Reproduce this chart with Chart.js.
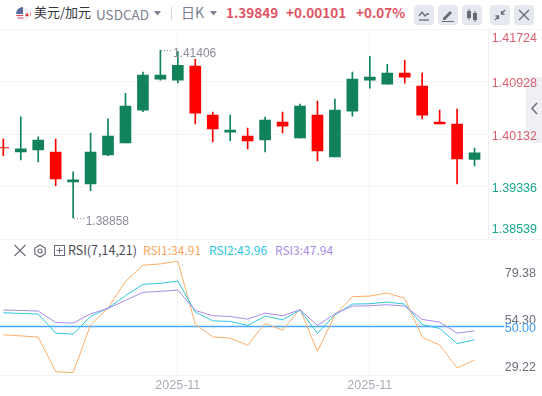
<!DOCTYPE html>
<html lang="zh">
<head>
<meta charset="UTF-8">
<title>USDCAD</title>
<script src="https://cdn.jsdelivr.net/npm/chart.js"></script>
<style>
    html, body { margin: 0; padding: 0; background: #fff; }
    body { width: 542px; height: 396px; position: relative; overflow: hidden; font-family: "Noto Sans CJK SC", "Noto Sans", sans-serif; }
    canvas { position: absolute; left: 0; top: 0; }
    .t { position: absolute; white-space: nowrap; line-height: 18px; }
    .rule { position: absolute; left: 0; height: 1px; background: #f3f3f6; }
    .btn { position: absolute; top: 5px; width: 20px; height: 20px; background: #e6e8ef; border-radius: 4px; }
    .btn svg, .icon { position: absolute; left: 0; top: 0; }
    .tab { position: absolute; left: 526px; top: 77px; width: 16px; height: 66px; background: #efeff4; border-radius: 6px 0 0 6px; }
</style>
</head>
<body>
    <!-- header -->
    <svg class="icon" style="left:14px;top:5px" width="18" height="18" viewBox="0 0 18 18">
        <circle cx="9" cy="9" r="7" fill="#f4f4f6"/>
        <path d="M9 2a7 7 0 0 0-7 7h7z" fill="#5c6b9e"/>
        <path d="M2.2 10.5h7M3.5 13h6" stroke="#d8505f" stroke-width="1.2"/>
        <path d="M12 7l1 1.6 1-.6-.3 2 1.2-.3-.8 1.6h-2.2l-.8-1.6 1.2.3-.3-2 1 .6z" fill="#d92b2b"/>
        <path d="M16 6a7 7 0 0 1 0 6z" fill="#d92b2b"/>
    </svg>
    <div class="t" style="left:34px;top:3px;font-size:13px;color:#33353d">美元/加元</div>
    <div class="t" style="left:96px;top:5px;font-size:13.5px;color:#7c808e">USDCAD</div>
    <svg class="icon" style="left:154px;top:11px" width="7" height="5"><path d="M0 0h7L3.5 4.5z" fill="#7c808e"/></svg>
    <div style="position:absolute;left:171px;top:7px;width:1px;height:13px;background:#d5d7de"></div>
    <div class="t" style="left:181px;top:3px;font-size:14px;color:#7c808e">日K</div>
    <svg class="icon" style="left:210px;top:11px" width="7" height="5"><path d="M0 0h7L3.5 4.5z" fill="#7c808e"/></svg>
    <div class="t" style="left:226px;top:3px;font-size:13.5px;font-weight:700;color:#df5263">1.39849</div>
    <div class="t" style="left:286px;top:3px;font-size:13.5px;font-weight:700;color:#df5263">+0.00101</div>
    <div class="t" style="left:356px;top:3px;font-size:13.5px;font-weight:700;color:#df5263">+0.07%</div>

    <div class="btn" style="left:414px"><svg width="20" height="20" fill="none" stroke="#676b78" stroke-width="1.3"><path d="M5 11l3-4 3 4 2-2h2"/><path d="M5 15h10"/></svg></div>
    <div class="btn" style="left:438px"><svg width="20" height="20" fill="#676b78"><path d="M5 13l7-7 2 2-7 7H5z"/><path d="M4 16h12v1H4z"/></svg></div>
    <div class="btn" style="left:462px"><svg width="20" height="20" fill="#676b78"><rect x="5" y="6" width="4" height="7"/><rect x="6.5" y="4" width="1" height="11"/><rect x="11" y="8" width="4" height="7"/><rect x="12.5" y="6" width="1" height="11"/></svg></div>
    <div class="btn" style="left:490px"><svg width="20" height="20" fill="none" stroke="#676b78" stroke-width="1.3"><path d="M5 15l4-4M15 5l-4 4M8.5 14v-3h-3M11.5 6v3h3"/></svg></div>
    <div class="btn" style="left:514px"><svg width="20" height="20" fill="none" stroke="#676b78" stroke-width="1.3"><path d="M5 5l10 10M15 5L5 15"/></svg></div>

    <div class="rule" style="top:29px;width:542px"></div>
    <div class="rule" style="top:239px;width:542px"></div>
    <div class="rule" style="top:375px;width:504px"></div>

    <div class="tab"><svg class="icon" style="left:4px;top:25px" width="9" height="13" fill="none" stroke="#6f7380" stroke-width="1.6"><path d="M7 1L2 6.5 7 12"/></svg></div>

    <!-- RSI legend -->
    <svg class="icon" style="left:13px;top:244px" width="14" height="13" fill="none" stroke="#676b78" stroke-width="1.1"><path d="M1.5 1l11 11M12.5 1l-11 11"/></svg>
    <svg class="icon" style="left:33px;top:244px" width="14" height="14" fill="none" stroke="#676b78" stroke-width="1.2"><path d="M7 1l5.2 3v6L7 13l-5.2-3V4z"/><circle cx="7" cy="7" r="2"/></svg>
    <svg class="icon" style="left:54px;top:245px" width="11" height="11" fill="none" stroke="#676b78" stroke-width="1"><rect x=".5" y=".5" width="10" height="10"/><path d="M2.5 5.5h6M5.5 2.5v6"/></svg>
    <div class="t" style="left:68px;top:241px;font-size:12.5px;color:#4a4c55">RSI(7,14,21)</div>
    <div class="t" style="left:143px;top:241px;font-size:12px;color:#f9a65a">RSI1:34.91</div>
    <div class="t" style="left:209px;top:241px;font-size:12px;color:#2cc5de">RSI2:43.96</div>
    <div class="t" style="left:275px;top:241px;font-size:12px;color:#a98be6">RSI3:47.94</div>

    <canvas id="chart" width="542" height="396"></canvas>

    <script>
        const opens = [1.39930, 1.39862, 1.39892, 1.39862, 1.39407, 1.39377, 1.39817, 1.39999, 1.40499, 1.40969, 1.40954, 1.41166, 1.40423, 1.40165, 1.40105, 1.40044, 1.40317, 1.40074, 1.40423, 1.39786, 1.40484, 1.40954, 1.40893, 1.41060, 1.40863, 1.40317, 1.40287, 1.39748];
        const closes = [1.39923, 1.39908, 1.40044, 1.39453, 1.39438, 1.39862, 1.40105, 1.40560, 1.41030, 1.41030, 1.41181, 1.40453, 1.40211, 1.40196, 1.40030, 1.40347, 1.40256, 1.40560, 1.39877, 1.40499, 1.40969, 1.40999, 1.41060, 1.40999, 1.40423, 1.40287, 1.39756, 1.39849];
        const highs = [1.40059, 1.40397, 1.40094, 1.40059, 1.39559, 1.40150, 1.40367, 1.40752, 1.41075, 1.41406, 1.41390, 1.41272, 1.40469, 1.40423, 1.40226, 1.40393, 1.40469, 1.40590, 1.40635, 1.40666, 1.41075, 1.41318, 1.41196, 1.41257, 1.41060, 1.40499, 1.40514, 1.39923];
        const lows = [1.39806, 1.39741, 1.39710, 1.39351, 1.38858, 1.39275, 1.39806, 1.39999, 1.40473, 1.40954, 1.40913, 1.40287, 1.40014, 1.40033, 1.39908, 1.39862, 1.40150, 1.40074, 1.39726, 1.39786, 1.40408, 1.40832, 1.40893, 1.40908, 1.40363, 1.40287, 1.39377, 1.39650];

        const rsi1 = [45.58, 45.04, 44.33, 26.01, 25.48, 50.91, 59.81, 74.04, 82.57, 83.29, 84.71, 51.27, 44.51, 43.80, 40.06, 51.63, 48.07, 59.27, 36.86, 56.07, 65.85, 66.21, 67.81, 64.97, 44.33, 40.24, 27.97, 32.24];
        const rsi2 = [57.32, 56.96, 56.61, 46.47, 45.93, 55.36, 59.81, 66.39, 72.44, 72.97, 74.21, 57.67, 53.05, 52.69, 50.56, 55.54, 53.58, 58.74, 46.29, 56.25, 61.94, 62.12, 63.01, 61.94, 51.09, 48.96, 40.95, 42.91];
        const rsi3 = [58.74, 58.56, 58.21, 52.16, 51.80, 56.78, 59.63, 63.90, 68.17, 68.70, 69.41, 58.56, 55.72, 55.36, 53.94, 57.14, 55.72, 58.92, 50.56, 56.78, 60.87, 61.05, 61.59, 60.87, 53.76, 52.34, 46.47, 47.71];

        const priceTicks = [1.41724, 1.40928, 1.40132, 1.39336, 1.38539];
        const rsiTicks = [79.38, 54.30, 50.00, 29.22];
        const dateTicks = [10, 21];
        const dateLabels = ['2025-11', '2025-11'];

        const up = '#118259', down = '#ff0000';
        const candleColors = opens.map((o, i) => closes[i] >= o ? up : down);
        const idx = opens.map((o, i) => i);
        const rsiLine = (label, values, color) => ({
            type: 'line', label, yAxisID: 'rsi', borderColor: color, borderWidth: 1,
            pointRadius: 0, tension: 0, data: idx.map(i => ({ x: i, y: values[i] }))
        });

        // axis labels and the high/low notes are placed by hand, chart.js would pad the panes for them
        const labelsPlugin = {
            id: 'labels',
            afterDraw(chart) {
                const { ctx, scales } = chart;
                ctx.save();
                ctx.font = '12.5px "Liberation Sans", sans-serif';
                ctx.textBaseline = 'middle';
                ctx.textAlign = 'right';
                priceTicks.forEach((t, i) => {
                    let y = scales.price.getPixelForValue(t) + 2;
                    if (i === 0) y += 7;
                    if (i === priceTicks.length - 1) y -= 11;
                    ctx.fillStyle = t > closes[closes.length - 1] ? '#d9616f' : '#1aa88c';
                    ctx.fillText(t.toFixed(5), 537, y);
                });
                rsiTicks.forEach(t => {
                    ctx.fillStyle = t === 50 ? '#3f9cf0' : '#6b6f7c';
                    ctx.fillText(t.toFixed(2), 536, scales.rsi.getPixelForValue(t) + 2);
                });
                ctx.font = '12px "Liberation Sans", sans-serif';
                ctx.textAlign = 'left';
                [[highs, Math.max(...highs), 3], [lows, Math.min(...lows), 4]].forEach(([arr, v, dy]) => {
                    const x = scales.x.getPixelForValue(arr.indexOf(v));
                    const y = scales.price.getPixelForValue(v);
                    ctx.fillStyle = '#8a8c99';
                    [1, 4, 7, 10].forEach(d => ctx.fillRect(Math.round(x) + d, Math.round(y), 1, 1));
                    ctx.fillText(v.toFixed(5), x + 12.5, y + dy);
                });
                ctx.restore();
            }
        };

        new Chart(document.getElementById('chart'), {
            type: 'bar',
            data: {
                datasets: [
                    {
                        label: 'wick', yAxisID: 'price', grouped: false, barThickness: 1,
                        backgroundColor: candleColors,
                        data: idx.map(i => ({ x: i, y: [lows[i], highs[i]] }))
                    },
                    {
                        label: 'body', yAxisID: 'price', grouped: false, barThickness: 11,
                        backgroundColor: candleColors,
                        data: idx.map(i => ({ x: i, y: [Math.min(opens[i], closes[i]), Math.max(opens[i], closes[i])] }))
                    },
                    rsiLine('RSI3', rsi3, '#a98be8'),
                    rsiLine('RSI2', rsi2, '#2fc6e0'),
                    rsiLine('RSI1', rsi1, '#fbae68'),
                    {
                        type: 'line', label: '50', yAxisID: 'rsi', borderColor: '#4aa8ff', borderWidth: 1.5,
                        pointRadius: 0, clip: false,
                        data: [{ x: -0.19, y: 50 }, { x: 28.7, y: 50 }]
                    }
                ]
            },
            options: {
                responsive: false,
                animation: false,
                events: [],
                layout: { padding: { top: 29.5, left: 0, right: 0, bottom: 0 } },
                plugins: { legend: { display: false }, tooltip: { enabled: false } },
                scales: {
                    x: {
                        type: 'linear', min: -0.19, max: 27.8, offset: false,
                        afterBuildTicks: s => { s.ticks = dateTicks.map(v => ({ value: v })); },
                        afterFit: s => { s.height = 21; },
                        ticks: {
                            autoSkip: false, maxRotation: 0, padding: 3, color: '#a9acb9',
                            font: { family: '"Liberation Sans"', size: 12.5 },
                            callback: v => dateLabels[dateTicks.indexOf(v)]
                        },
                        grid: { offset: false, color: '#f3f3f6', drawTicks: false },
                        border: { display: false }
                    },
                    price: {
                        position: 'right', stack: 'panes', stackWeight: 209.5, offset: false,
                        min: 1.38539, max: 1.41724,
                        afterBuildTicks: s => { s.ticks = priceTicks.map(v => ({ value: v })); },
                        afterFit: s => { s.width = 53.5; },
                        ticks: { display: false },
                        grid: { color: '#f3f3f6', drawTicks: false },
                        border: { display: true, color: '#f0f0f3' }
                    },
                    rsi: {
                        position: 'right', stack: 'panes', stackWeight: 136,
                        min: 24.23, max: 96.53,
                        afterFit: s => { s.width = 53.5; },
                        ticks: { display: false },
                        grid: { display: false },
                        border: { display: false }
                    }
                }
            },
            plugins: [labelsPlugin]
        });
    </script>
</body>
</html>
